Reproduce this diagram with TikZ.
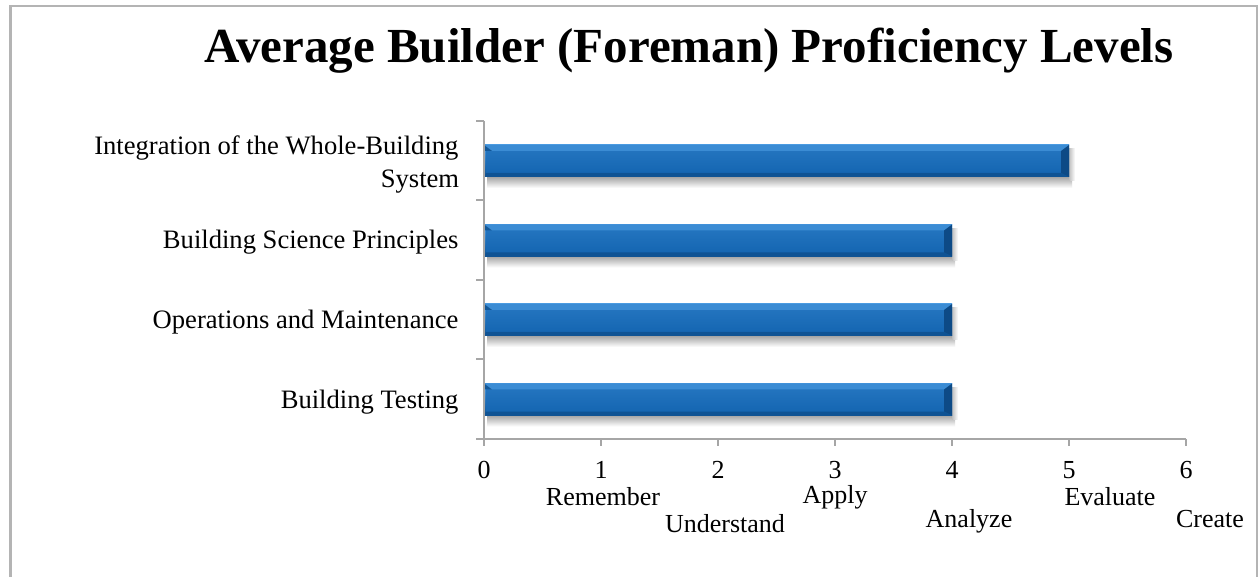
\documentclass[tikz,border=0pt]{standalone}
\usepackage{fontspec}
\setmainfont{Liberation Serif}
\definecolor{framegray}{HTML}{B4B4B4}
\definecolor{axisgray}{HTML}{A6A6A6}
\definecolor{barmid}{HTML}{1566B2}
\definecolor{barlight}{HTML}{4C9CE2}
\definecolor{bardark}{HTML}{0F5394}
\definecolor{barside}{HTML}{0D4A86}
\begin{document}
\begin{tikzpicture}[x=1pt,y=-1pt,
  axis/.style={draw=axisgray,line width=1.6pt},
  ticklab/.style={font=\fontsize{26}{30}\selectfont,anchor=base},
  catlab/.style={font=\fontsize{26.6}{31}\selectfont,anchor=base east},
  lvllab/.style={font=\fontsize{26}{30}\selectfont,anchor=base}]
\useasboundingbox (0,0) rectangle (1259,577);
\fill[white] (0,0) rectangle (1259,577);
\draw[framegray,line width=2.5pt] (10.5,580) -- (10.5,6) -- (1257,6) -- (1257,580);
\node[font=\fontsize{49}{58}\selectfont\bfseries,anchor=base] (title) at (689,63) {Average Builder (Foreman) Proficiency Levels};
% bars
\foreach \yc/\v [count=\i] in {161/5,240.5/4,320/4,399.5/4}{
  \pgfmathsetmacro{\xe}{484+117*\v}
  \shade[top color=black!35,bottom color=white] (487,\yc+16) rectangle (\xe+3,\yc+27);
  \shade[top color=black!25,bottom color=white,shading angle=90] (\xe,\yc-12) rectangle (\xe+6,\yc+20);
  \shade[top color=barlight,middle color=barmid,bottom color=bardark] (484,\yc-16) rectangle (\xe,\yc+16);
  \shade[top color=barlight!25!barmid,bottom color=barmid] (486,\yc-10) rectangle (\xe-8,\yc+12);
  \fill[barlight!70!barmid] (484,\yc-16) -- (\xe,\yc-16) -- (\xe-8,\yc-10) -- (492,\yc-10) -- cycle;
  \fill[barside] (\xe,\yc-16) -- (\xe,\yc+16) -- (\xe-8,\yc+12) -- (\xe-8,\yc-10) -- cycle;
  \fill[bardark] (484,\yc+16) -- (\xe,\yc+16) -- (\xe-8,\yc+12) -- (486,\yc+12) -- cycle;
  \fill[barmid!85!black] (484,\yc-16) -- (492,\yc-10) -- (486,\yc-10) -- (484,\yc-10) -- cycle;
}
% axes
\coordinate (o) at (484,439);
\coordinate (ytop) at (484,121);
\coordinate (xend) at (1186,439);
\draw[axis] (ytop) -- (484,446);
\draw[axis] (476,439) -- (xend);
\foreach \yy in {121,200,280,359}{\draw[axis] (476,\yy) -- (484,\yy);}
\foreach \k in {1,...,6}{\draw[axis] (484+117*\k,439) -- (484+117*\k,446);}
% tick numbers
\foreach \k in {0,...,6}{\node[ticklab] (t\k) at (484+117*\k,478) {\k};}
% level names
\node[lvllab] (l1) at (603,505) {Remember};
\node[lvllab] (l2) at (725,532) {Understand};
\node[lvllab] (l3) at (835,503) {Apply};
\node[lvllab] (l4) at (969,527) {Analyze};
\node[lvllab] (l5) at (1110,505) {Evaluate};
\node[lvllab] (l6) at (1210,527) {Create};
% category labels
\node[catlab] (c1a) at (462,155) {Integration of the Whole-Building};
\node[font=\fontsize{26.6}{31}\selectfont,anchor=base] (c1b) at (420,188) {System};
\node[catlab] (c2) at (462,249) {Building Science Principles};
\node[catlab] (c3) at (462,329) {Operations and Maintenance};
\node[catlab] (c4) at (462,408) {Building Testing};
\end{tikzpicture}
\end{document}
